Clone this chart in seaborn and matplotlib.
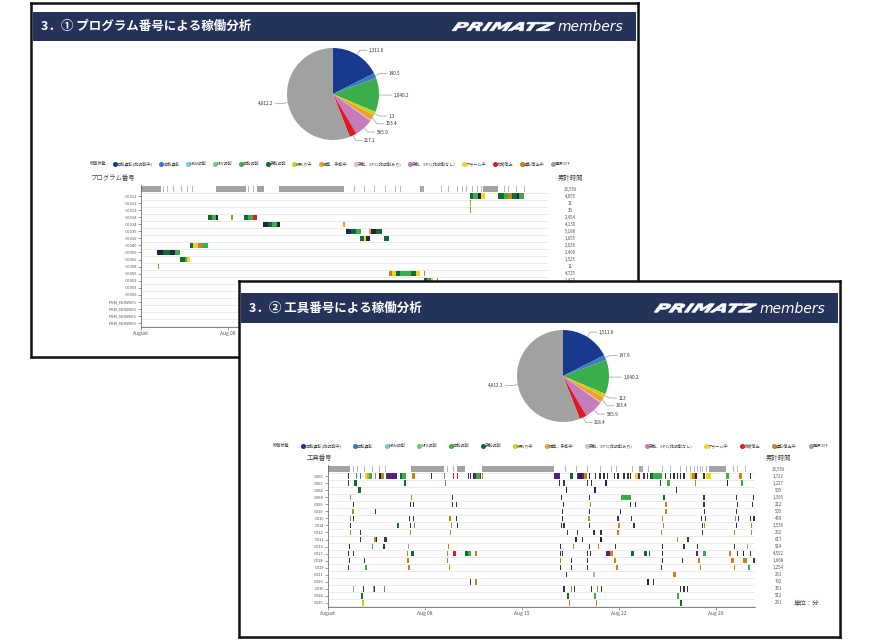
import matplotlib
matplotlib.use("Agg")
import matplotlib.pyplot as plt
import matplotlib.transforms as mtransforms
from matplotlib.lines import Line2D
from matplotlib.textpath import TextPath
from matplotlib.patches import PathPatch
from matplotlib.font_manager import FontProperties
import numpy as np
import seaborn as sns

# ---- data ----
state_names = ["自動運転(非切削中)", "自動運転", "MAN切削", "MDI切削", "自動切削", "手動切削",
               "段取り中", "編集、手動中", "手動、EPC(非切削あり)", "手動、EPC(非切削なし)",
               "アラーム中", "非常停止", "運転停止中", "電源OFF"]
state_colors = ["#173a8e", "#3c78c8", "#78c8d8", "#7cc47a", "#3aae4a", "#106a32", "#c8d21e",
                "#f0a02a", "#eab4d4", "#c47cbc", "#f2d41a", "#e01a22", "#c8841a", "#a0a2a2"]
# timeline uses a darker shade for state 0 and two extra states (14 purple, 15 dark)
bar_colors = ["#1e2444"] + state_colors[1:] + ["#5b1f7a", "#33363a"]

pie_states = [0, 1, 4, 6, 7, 8, 9, 11, 13]
pie_values = [1511.6, 147.6, 1040.2, 111.3, 163.4, 30.0, 565.9, 218.4, 4812.3]
pie_labels_1 = ["1,311.6", "140.5", "1,040.2", "1.3", "153.4", "", "565.9", "217.1", "4,812.2"]
pie_labels_2 = ["1,511.6", "147.6", "1,040.2", "113", "163.4", "", "565.9", "218.4", "4,812.3"]

# top row (overall machine state)
top_gray = [(0.0, 1.6), (6.0, 2.4), (9.3, 0.6), (11.1, 5.2), (22.4, 0.3), (27.5, 1.2)]
top_ticks = [1.8, 2.1, 2.6, 3.2, 3.5, 3.7, 4.1, 8.6, 9.0, 17.1, 17.9, 18.7, 19.6, 20.4, 20.8,
             21.9, 22.6, 23.1, 24.1, 24.7, 25.4, 25.8, 26.1, 26.4, 26.6, 26.8, 27.0, 27.3,
             29.2, 29.5, 30.1, 30.8]

prog_rows = ["O0011", "O0012", "O0013", "O0018", "O0034", "O0035", "O0010", "O0040", "O0050",
             "O0056", "O0058", "O0055", "O0052", "O0059", "O0060", "PGM_NOW005", "PGM_NOW002",
             "PGM_NOW006", "PGM_NOW009"]
prog_total = ["15,559", "4,055", "11", "30", "2,454", "4,130", "5,188", "1,655", "2,038", "2,490",
              "1,525", "11", "4,725", "1,420", "", "", "", "", "", ""]
prog_events = [
    [(26.4, .3, 5), (26.7, .4, 4), (27.1, .2, 0), (27.3, .3, 10), (28.7, .5, 5), (29.2, .3, 4),
     (29.5, .3, 12), (29.8, .4, 5), (30.2, .2, 0), (30.4, .4, 4)],
    [(26.45, .1, 12)],
    [(26.45, .1, 12)],
    [(5.4, .3, 5), (5.7, .3, 4), (6.0, .2, 0), (7.25, .12, 12), (8.3, .3, 5), (8.6, .4, 4), (9.0, .3, 11)],
    [(9.8, .4, 0), (10.2, .3, 5), (10.5, .4, 4), (10.9, .3, 0), (16.25, .18, 7)],
    [(16.5, .4, 0), (16.9, .4, 5), (17.3, .4, 4), (18.3, .2, 7), (18.5, .4, 0), (18.9, .5, 5)],
    [(17.6, .3, 5), (17.9, .2, 10), (18.1, .3, 0), (19.5, .4, 5)],
    [(3.9, .3, 5), (4.2, .4, 10), (4.6, .3, 12), (4.9, .5, 4)],
    [(1.3, .5, 0), (1.8, .5, 5), (2.3, .4, 0), (2.7, .4, 4)],
    [(3.1, .4, 5), (3.5, .2, 4), (3.7, .2, 10)],
    [(1.35, .1, 12)],
    [(19.9, .3, 12), (20.2, .3, 10), (20.5, .3, 5), (20.8, .9, 4), (21.7, .4, 5), (22.1, .3, 10),
     (22.7, .08, 12)],
    [(22.7, .3, 5), (23.0, .3, 4), (23.3, .2, 10), (23.8, .1, 12)],
    [], [], [], [], [], [],
]

tool_rows = ["C006", "C007", "C004", "C008", "C009", "C010", "C016", "C014", "C012", "C011",
             "C013", "C017", "C018", "C019", "C021", "C026", "C015", "C024", "C025"]
tool_total = ["15,559", "1,722", "1,227", "505", "1,395", "212", "505", "459", "1,539", "252",
              "617", "514", "4,552", "1,668", "1,254", "261", "792", "361", "512", "261"]
tool_events = [
    [(1.42, .1, 15), (2.02, .1, 1), (2.31, .1, 1), (2.67, .16, 10), (2.83, .16, 7), (2.99, .16, 4),
     (3.39, .08, 12), (3.70, .14, 0), (3.84, .2, 12), (4.18, .1, 5), (4.28, .67, 14), (5.19, .18, 5),
     (5.37, .23, 4), (6.04, .24, 12), (7.43, .1, 15), (8.37, .1, 4), (9.0, .1, 11), (9.28, .1, 11),
     (10.08, .08, 15), (10.25, .08, 15), (10.44, .2, 14), (10.64, .3, 4), (10.94, .1, 5),
     (11.1, .1, 12), (16.3, .45, 14), (17.46, .24, 5), (17.94, .2, 14), (18.14, .2, 0),
     (18.34, .16, 14), (18.5, .16, 12), (18.85, .08, 15), (19.26, .08, 15), (19.58, .08, 15),
     (19.87, .08, 15), (20.11, .08, 15), (20.64, .08, 15), (20.88, .08, 15), (21.31, .08, 15),
     (21.6, .08, 15), (21.79, .08, 15), (22.15, .18, 10), (22.33, .18, 14), (22.75, .1, 14),
     (22.99, .08, 15), (23.23, .2, 5), (23.43, .64, 4), (24.32, .08, 15), (24.68, .08, 15),
     (24.92, .08, 15), (25.16, .08, 15), (25.4, .08, 15), (25.64, .08, 15), (26.12, .16, 10),
     (26.28, .16, 12), (26.44, .16, 0), (27.08, .08, 15), (27.27, .34, 10), (28.72, .23, 4),
     (29.68, .17, 12), (30.45, .08, 15)],
    [(1.45, .08, 15), (1.88, .19, 5), (5.48, .12, 5), (8.42, .08, 4), (16.67, .08, 15), (16.98, .08, 15),
     (18.71, .08, 15), (18.98, .08, 15), (19.99, .1, 0), (23.95, .08, 15), (24.43, .25, 4),
     (26.48, .08, 12), (28.76, .1, 0), (29.77, .15, 4)],
    [(2.19, .17, 5), (17.17, .1, 0), (19.22, .1, 0), (25.11, .08, 15)],
    [(1.57, .08, 12), (5.99, .08, 12), (8.95, .08, 15), (16.79, .08, 15), (18.85, .08, 15),
     (21.14, .7, 4), (24.19, .1, 5), (27.08, .08, 15), (29.44, .08, 15), (30.64, .08, 15)],
    [(1.78, .1, 15), (5.92, .08, 15), (6.13, .08, 15), (8.95, .08, 15), (9.26, .08, 15), (16.93, .1, 15),
     (18.9, .08, 12), (21.79, .08, 15), (22.15, .08, 15), (24.32, .11, 12), (27.08, .08, 15),
     (29.49, .11, 15), (30.56, .08, 15)],
    [(1.73, .12, 12), (3.39, .08, 15), (16.86, .08, 15), (18.85, .08, 15), (21.07, .08, 15),
     (24.32, .11, 12), (27.13, .08, 15), (29.44, .08, 15)],
    [(1.57, .06, 12), (1.81, .08, 15), (5.84, .08, 15), (6.13, .08, 15), (8.76, .1, 12), (9.26, .08, 15),
     (16.86, .08, 15), (18.78, .12, 12), (20.88, .08, 15), (21.84, .08, 15), (24.07, .1, 12),
     (26.89, .08, 15), (27.2, .08, 15), (29.37, .08, 12), (29.6, .08, 15), (30.45, .08, 15),
     (30.69, .08, 15)],
    [(1.57, .08, 15), (4.95, .19, 5), (5.89, .08, 15), (6.18, .08, 12), (8.85, .1, 12), (9.28, .08, 15),
     (16.79, .08, 15), (16.98, .08, 15), (18.85, .08, 15), (20.95, .1, 12), (22.03, .08, 15),
     (24.14, .08, 12), (26.96, .08, 15), (27.1, .08, 12), (29.44, .08, 15), (30.5, .08, 12)],
    [(1.57, .08, 12), (2.31, .08, 15), (5.89, .08, 12), (8.81, .08, 12), (17.22, .08, 15),
     (17.94, .08, 15), (19.15, .08, 15), (19.63, .14, 15), (20.88, .1, 12), (24.02, .08, 12),
     (26.96, .08, 15), (29.25, .08, 12), (30.5, .08, 12)],
    [(2.31, .08, 15), (3.32, .12, 12), (3.44, .12, 0), (4.04, .19, 15), (17.82, .12, 0), (18.3, .08, 15),
     (19.63, .1, 0), (25.16, .08, 12), (25.88, .14, 15)],
    [(1.5, .08, 15), (3.15, .1, 4), (4.0, .08, 15), (5.75, .08, 13), (8.66, .08, 12), (16.74, .08, 15),
     (17.7, .08, 12), (18.85, .08, 15), (19.5, .08, 12), (20.71, .08, 15), (24.07, .08, 15),
     (25.64, .08, 15), (26.6, .08, 15), (29.25, .08, 15), (30.21, .08, 13)],
    [(1.45, .08, 15), (1.81, .08, 15), (5.67, .08, 12), (6.01, .17, 5), (8.57, .08, 12), (9.04, .19, 11),
     (9.85, .25, 5), (10.1, .2, 4), (10.6, .08, 12), (10.7, .08, 12), (16.72, .08, 15), (16.9, .08, 15),
     (18.66, .08, 15), (18.9, .08, 15), (20.05, .3, 14), (20.35, .19, 12), (21.84, .24, 5),
     (22.8, .2, 5), (23.18, .08, 5), (24.07, .08, 15), (26.56, .1, 14), (27.08, .19, 4),
     (28.95, .1, 12), (29.49, .08, 15), (29.92, .08, 0), (30.45, .08, 15)],
    [(1.5, .08, 15), (2.57, .08, 15), (5.72, .1, 12), (8.57, .1, 12), (16.74, .08, 12), (17.51, .08, 15),
     (18.71, .08, 15), (20.64, .1, 12), (24.07, .08, 15), (25.52, .08, 15), (26.72, .1, 12),
     (29.05, .2, 12), (29.97, .24, 12), (30.69, .08, 15)],
    [(1.47, .08, 15), (2.69, .1, 4), (5.8, .1, 12), (8.71, .1, 12), (16.74, .08, 15), (17.51, .08, 15),
     (18.71, .08, 15), (20.78, .14, 12), (24.02, .08, 15), (26.84, .08, 12), (29.25, .1, 12),
     (30.33, .12, 4)],
    [(17.17, .08, 15), (19.15, .08, 2), (24.92, .15, 12)],
    [(10.25, .08, 15), (10.6, .16, 12), (23.04, .09, 0), (23.43, .08, 15)],
    [(1.81, .08, 13), (2.55, .08, 15), (3.22, .08, 13), (3.33, .08, 15), (4.04, .1, 4), (16.98, .08, 15),
     (17.51, .08, 12), (17.75, .08, 15), (18.95, .08, 15), (19.43, .08, 12), (19.68, .08, 15),
     (25.4, .08, 15), (25.64, .08, 15), (25.88, .08, 15)],
    [(2.4, .1, 5), (17.27, .09, 5), (19.2, .1, 4), (25.2, .1, 4)],
    [(2.48, .12, 6), (17.36, .08, 12), (19.34, .08, 12), (25.4, .1, 5)],
]

tick_days = [0, 7, 14, 21, 28]
tick_names = ["August", "Aug 08", "Aug 15", "Aug 22", "Aug 29"]

# ---- drawing ----
sns.set_theme(style="white")
plt.rcParams["font.family"] = ["Noto Sans CJK JP", "DejaVu Sans"]

W, H = 870, 640
fig = plt.figure(figsize=(8.7, 6.4), dpi=100)


def box(x0, y0, x1, y1):
    return [x0 / W, 1 - y1 / H, (x1 - x0) / W, (y1 - y0) / H]


def plain(ax, color):
    ax.set_facecolor(color)
    ax.set_xticks([]); ax.set_yticks([])
    for s in ax.spines.values():
        s.set_visible(False)


def draw_frame(x0, y0, x1, y1, h0, h1, title):
    sh = fig.add_axes(box(x0 + 2, y0 + 2, x1 + 2, y1 + 2))
    plain(sh, "#e2e2e2")
    fr = fig.add_axes(box(x0, y0, x1, y1))
    plain(fr, "white")
    for s in fr.spines.values():
        s.set_visible(True); s.set_color("#111111"); s.set_linewidth(1.8)
    hd = fig.add_axes(box(x0 + 2, h0, x1 - 2, h1))
    plain(hd, "#25335a")
    w = x1 - x0 - 4
    hd.text(8 / w, 0.5, title, color="white", fontsize=9, fontweight="bold",
            va="center", ha="left", transform=hd.transAxes)
    hd.text(1 - 13 / w, 0.47, "members", color="white", fontsize=10, style="italic",
            family="DejaVu Sans", va="center", ha="right", transform=hd.transAxes)
    # logo, stretched wide like the original wordmark
    tp = TextPath((0, 0), "PRIMATZ", size=10,
                  prop=FontProperties(family="DejaVu Sans", weight="heavy", style="italic"))
    tp = mtransforms.Affine2D().skew_deg(14, 0).transform_path(tp)
    ext = tp.get_extents()
    lx0, lx1 = x1 - 186, x1 - 83
    ymid = (h0 + h1) / 2
    lh = 8.5
    tr = (mtransforms.Affine2D().translate(-ext.x0, -ext.y0)
          .scale((lx1 - lx0) / ext.width, lh / ext.height)
          .translate(lx0, H - (ymid + lh / 2)))
    hd.add_patch(PathPatch(tp, transform=tr, facecolor="white", edgecolor="white", lw=0.5,
                           clip_on=False))


def draw_pie(cx, cy, r, labels):
    ax = fig.add_axes(box(cx - r, cy - r, cx + r, cy + r))
    wedges, _ = ax.pie(pie_values, colors=[state_colors[s] for s in pie_states], startangle=90,
                       counterclock=False, radius=1, wedgeprops=dict(linewidth=0))
    ax.set_xlim(-1, 1); ax.set_ylim(-1, 1)
    last_y = 9.0
    for wd, lab in zip(wedges, labels):
        if not lab:
            continue
        a = np.deg2rad((wd.theta1 + wd.theta2) / 2)
        c, s = np.cos(a), np.sin(a)
        sgn = 1 if c >= 0 else -1
        p1 = (c, s)
        p2 = [c * 1.12, s * 1.12]
        if sgn > 0:
            p2[1] = min(p2[1], last_y - 0.17)
            last_y = p2[1]
        p3 = (p2[0] + sgn * 0.15, p2[1])
        ax.plot([p1[0], p2[0], p3[0]], [p1[1], p2[1], p3[1]], color="#9a9a9a", lw=0.5,
                clip_on=False)
        ax.text(p3[0] + sgn * 0.04, p3[1], lab, fontsize=3.4, color="#333333",
                ha="left" if sgn > 0 else "right", va="center", clip_on=False)


def draw_legend(x0, y0, x1, y1):
    ax = fig.add_axes(box(x0, y0, x1, y1))
    ax.axis("off")
    handles = [Line2D([], [], ls="", marker="")]
    handles += [Line2D([], [], ls="", marker="o", ms=2.6, color=c) for c in state_colors]
    ax.legend(handles, ["稼働状態"] + state_names, ncol=len(handles), loc="center",
              mode="expand", bbox_to_anchor=(0, 0, 1, 1), frameon=False, fontsize=3,
              handletextpad=0.1, columnspacing=0.2, handlelength=0.7, borderaxespad=0,
              labelcolor="#444444")


def draw_timeline(bx, xmax, rows, events, totals, head, head_x, unit):
    ax = fig.add_axes(box(*bx))
    n = len(rows)
    ax.set_xlim(0, xmax)
    ax.set_ylim(n - 0.4, -1.6)
    for k in range(-1, n):
        ax.axhline(k + 0.5, color="#e4e4e4", lw=0.5, zorder=0)
    ax.barh([-1] * len(top_gray), [g[1] for g in top_gray], left=[g[0] for g in top_gray],
            height=0.8, color="#a3a3a3", lw=0)
    ax.barh([-1] * len(top_ticks), [0.07] * len(top_ticks), left=top_ticks, height=0.8,
            color="#b8b8b8", lw=0)
    ys, ls, ws, cs = [], [], [], []
    for i, evs in enumerate(events):
        for st, wd, s in evs:
            ys.append(i); ls.append(st); ws.append(wd); cs.append(bar_colors[s])
    ax.barh(ys, ws, left=ls, height=0.8, color=cs, lw=0)
    ax.set_yticks(range(n))
    ax.set_yticklabels(rows, fontsize=3, color="#555555")
    ax.set_xticks(tick_days)
    ax.set_xticklabels(tick_names, fontsize=3.6, color="#555555")
    ax.tick_params(axis="both", length=2, width=0.4, pad=1, color="#555555", left=True, bottom=True)
    sns.despine(ax=ax)
    for s in ("left", "bottom"):
        ax.spines[s].set_linewidth(0.5); ax.spines[s].set_color("#555555")
    tr = mtransforms.blended_transform_factory(ax.transAxes, ax.transData)
    for k, v in enumerate(totals):
        ax.text(1.055, k - 1, v, fontsize=3.2, color="#555555", ha="center", va="center",
                transform=tr, clip_on=False)
    ax.text(head_x, 1.02, head, fontsize=4.6, color="#444444", ha="center", va="bottom",
            transform=ax.transAxes)
    ax.text(1.055, 1.02, "累計時間", fontsize=4.6, color="#444444", ha="center", va="bottom",
            transform=ax.transAxes)
    if unit:
        ax.text(1.12, n - 1, "単位：分", fontsize=4.6, color="#444444", ha="center", va="center",
                transform=tr, clip_on=False)
    return ax


# slide 1: program number
draw_frame(31, 3, 638, 357, 12, 41, "3．① プログラム番号による稼働分析")
draw_pie(333, 94, 46, pie_labels_1)
draw_legend(85, 160, 572, 168)
draw_timeline((141, 185, 548, 327), 32.7, prog_rows, prog_events, prog_total,
              "プログラム番号", -0.07, False)

# slide 2: tool number
draw_frame(239, 281, 840, 637, 293, 323, "3．② 工具番号による稼働分析")
draw_pie(563, 376, 46, pie_labels_2)
draw_legend(268, 442, 830, 450)
draw_timeline((328, 465, 755, 607), 30.8, tool_rows, tool_events, tool_total,
              "工具番号", -0.02, True)

fig.savefig("out.png", dpi=100)
